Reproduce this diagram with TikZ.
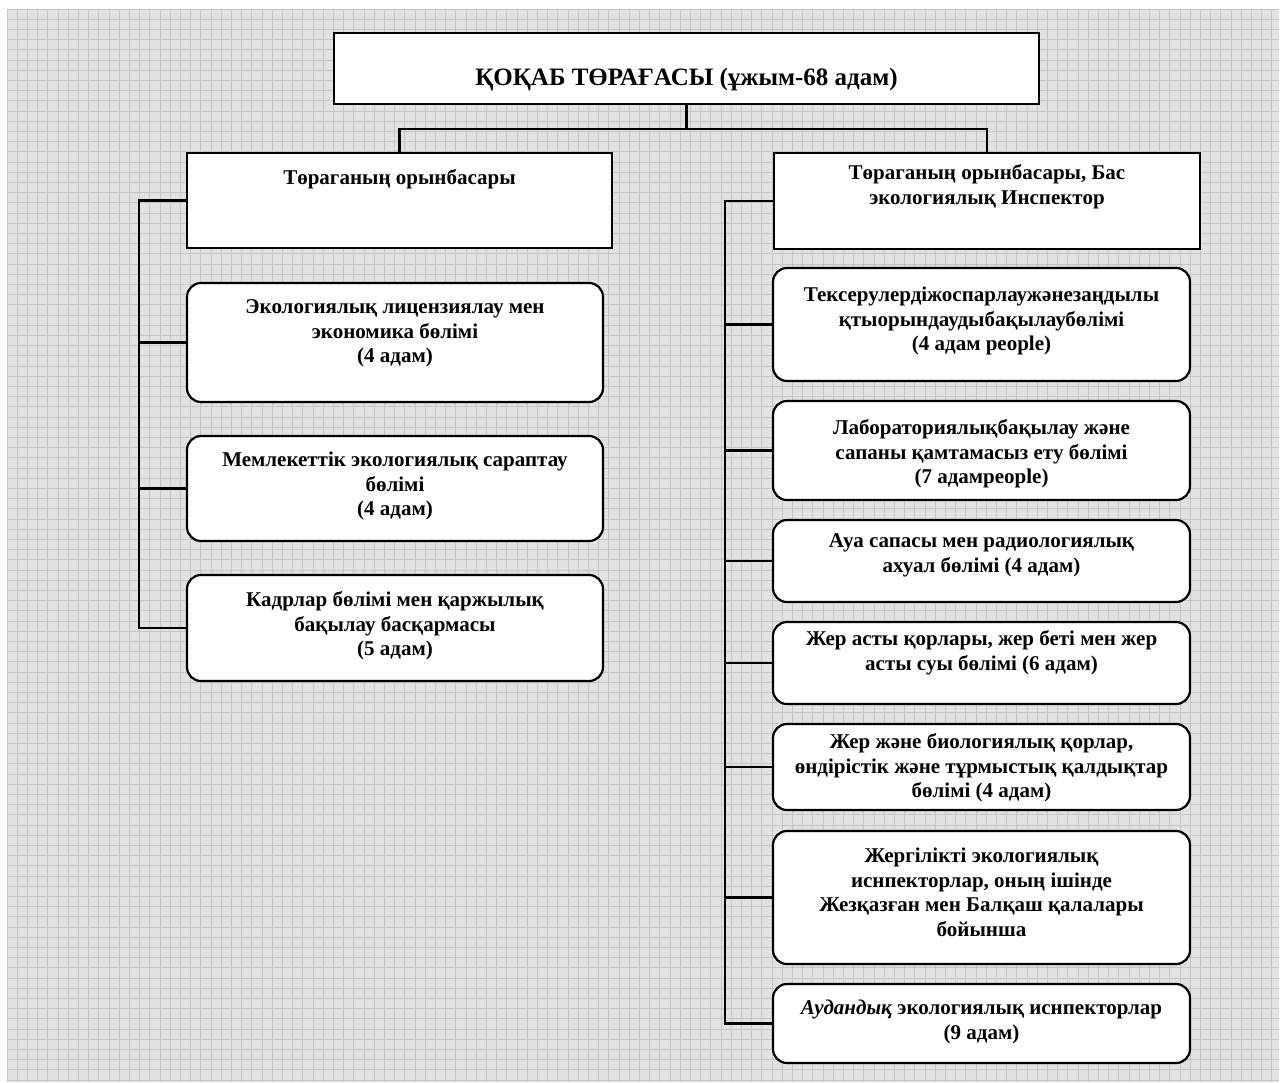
\documentclass[tikz,border=0pt]{standalone}
\usepackage{fontspec}
\setmainfont{Liberation Serif}
\definecolor{gridbg}{RGB}{226,226,226}
\definecolor{gridline}{RGB}{198,198,198}
\tikzset{
  box/.style={draw=black, line width=2.2pt, fill=white, inner sep=0pt},
  rbox/.style={box, rounded corners=14pt},
  txt/.style={font=\fontsize{21}{24.5}\selectfont\bfseries, align=center, anchor=north, inner sep=0pt, execute at begin node=\strut},
  conn/.style={draw=black, line width=2.2pt}
}
\begin{document}
\begin{tikzpicture}[x=1pt,y=-1pt]
\useasboundingbox (0,0) rectangle (1282,1082);
% grid background
\fill[gridbg] (7,9) rectangle (1279,1082);
\foreach \i in {0,...,124} \draw[gridline, line width=0.9pt] (7+\i*10.2,9) -- (7+\i*10.2,1082);
\foreach \j in {0,...,105} \draw[gridline, line width=0.9pt] (7,9+\j*10.2) -- (1279,9+\j*10.2);

% boxes
\node[box, minimum width=705pt, minimum height=71pt] (top) at (686.5,68.5) {};
\node[box, minimum width=425pt, minimum height=95pt] (dL) at (399.5,200.5) {};
\node[box, minimum width=426pt, minimum height=96pt] (dR) at (987,201) {};
\node[rbox, minimum width=416pt, minimum height=119pt] (b1) at (395,342.5) {};
\node[rbox, minimum width=416pt, minimum height=105pt] (b2) at (395,488.5) {};
\node[rbox, minimum width=416pt, minimum height=106pt] (b3) at (395,628) {};
\node[rbox, minimum width=417pt, minimum height=113pt] (r1) at (981.5,324.5) {};
\node[rbox, minimum width=417pt, minimum height=99pt] (r2) at (981.5,450.5) {};
\node[rbox, minimum width=417pt, minimum height=82pt] (r3) at (981.5,561) {};
\node[rbox, minimum width=417pt, minimum height=82pt] (r4) at (981.5,663) {};
\node[rbox, minimum width=417pt, minimum height=86pt] (r5) at (981.5,767) {};
\node[rbox, minimum width=417pt, minimum height=133pt] (r6) at (981.5,897.5) {};
\node[rbox, minimum width=417pt, minimum height=79pt] (r7) at (981.5,1023.5) {};

% connectors
\coordinate (bus) at (686.5,129);
\coordinate (ls) at (139,0);
\coordinate (rs) at (725,0);
\draw[conn] (top.south) -- (bus);
\draw[conn] (dL.north) -- (dL.north |- bus) -- (dR.north |- bus) -- (dR.north);
\draw[conn] (dL.west) -- (dL.west -| ls) -- (b3.west -| ls) -- (b3.west);
\draw[conn] (b1.west -| ls) -- (b1.west);
\draw[conn] (b2.west -| ls) -- (b2.west);
\draw[conn] (dR.west) -- (dR.west -| rs) -- (r7.west -| rs) -- (r7.west);
\foreach \n in {r1,r2,r3,r4,r5,r6} \draw[conn] (\n.west -| rs) -- (\n.west);

% texts (yshift = 17.15 - baseline offset from box top)
\node[txt, anchor=base, font=\fontsize{25}{28}\selectfont\bfseries, execute at begin node={}, yshift=-54pt] (ttop) at (top.north) {ҚОҚАБ ТӨРАҒАСЫ (ұжым-68 адам)};
\node[txt, yshift=-14.85pt] (tdL) at (dL.north) {Төраганың орынбасары};
\node[txt, yshift=-12.85pt] (tdR) at (dR.north) {Төраганың орынбасары, Бас\\экологиялық Инспектор};
\node[txt, yshift=-17.85pt] (tb1) at (b1.north) {Экологиялық лицензиялау мен\\экономика бөлімі\\(4 адам)};
\node[txt, yshift=-16.85pt] (tb2) at (b2.north) {Мемлекеттік экологиялық сараптау\\бөлімі\\(4 адам)};
\node[txt, yshift=-17.85pt] (tb3) at (b3.north) {Кадрлар бөлімі мен қаржылық\\бақылау басқармасы\\(5 адам)};
\node[txt, yshift=-19.85pt] (tr1) at (r1.north) {Тексерулердіжоспарлаужәнезаңдылы\\қтыорындаудыбақылаубөлімі\\(4 адам people)};
\begin{scope}
\clip (773,401) rectangle (1190,490);
\node[txt, yshift=-19.85pt] (tr2) at (r2.north) {Лабораториялықбақылау және\\сапаны қамтамасыз ету бөлімі\\(7 адамpeople)};
\end{scope}
\node[txt, yshift=-14.85pt] (tr3) at (r3.north) {Ауа сапасы мен радиологиялық\\ахуал бөлімі (4 адам)};
\node[txt, yshift=-9.85pt] (tr4) at (r4.north) {Жер асты қорлары, жер беті мен жер\\асты суы бөлімі (6 адам)};
\node[txt, yshift=-10.85pt] (tr5) at (r5.north) {Жер және биологиялық қорлар,\\өндірістік және тұрмыстық қалдықтар\\бөлімі (4 адам)};
\node[txt, yshift=-17.85pt] (tr6) at (r6.north) {Жергілікті экологиялық\\иснпекторлар, оның ішінде\\Жезқазған мен Балқаш қалалары\\бойынша};
\node[txt, yshift=-16.85pt] (tr7) at (r7.north) {\textit{Аудандық} экологиялық иснпекторлар\\(9 адам)};
\end{tikzpicture}
\end{document}
